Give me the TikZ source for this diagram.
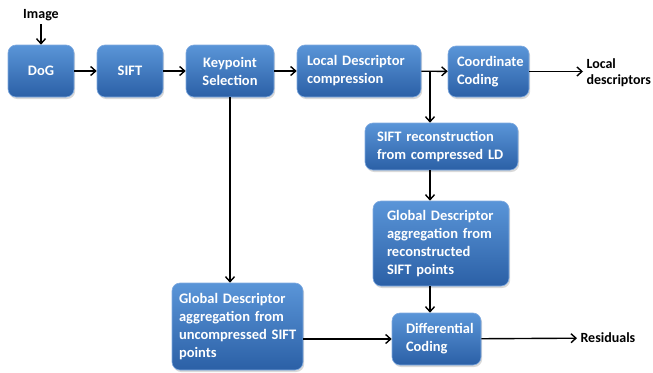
\documentclass[tikz,border=0pt]{standalone}
\usepackage{fontspec}
\setmainfont{Carlito}
\usetikzlibrary{arrows.meta,shadows}

\begin{document}
\begin{tikzpicture}[x=1pt,y=1pt,
	>={Straight Barb[length=5pt,width=9pt]},
	flow/.style={->,line width=1.4pt},
	blk/.style={rounded corners=8pt,draw=BEDG,line width=0.6pt,
		top color=BTOP,bottom color=BBOT,text=white,inner xsep=0pt,
		font=\fontsize{14.5}{18}\selectfont\bfseries,align=left,
		drop shadow={opacity=0.3,shadow xshift=1.2pt,shadow yshift=-2pt}},
	lbl/.style={font=\fontsize{14}{16}\selectfont\bfseries,align=left,anchor=west}]
\definecolor{BTOP}{HTML}{5A95D8}
\definecolor{BBOT}{HTML}{2B60A6}
\definecolor{BEDG}{HTML}{7FAAE0}

\useasboundingbox (0,0) rectangle (653,-372);

% main chain
\node[blk,minimum width=66,minimum height=52,align=center] (dog) at (41,-71) {DoG};
\node[blk,minimum width=66,minimum height=52,align=center] (sift) at (130,-71) {SIFT};
\node[blk,minimum width=88,minimum height=52,align=center] (ks) at (230,-71) {Keypoint\\Selection};
\node[blk,minimum width=124,minimum height=52,text width=104] (ldc) at (359,-71) {Local~Descriptor\\compression};
\node[blk,minimum width=81,minimum height=51,text width=63] (cc) at (488.5,-71.5) {Coordinate\\Coding};

% reconstruction branch
\node[blk,minimum width=153,minimum height=47,text width=129] (sr) at (441.5,-146.5) {SIFT~reconstruction\\from~compressed~LD};
\node[blk,minimum width=136,minimum height=85,text width=108] (gdr) at (441,-243.5) {Global~Descriptor\\aggregation~from\\reconstructed\\SIFT~points};
\node[blk,minimum width=89,minimum height=52,text width=61] (dc) at (436.5,-339) {Differential\\Coding};
\node[blk,minimum width=131,minimum height=87,text width=117] (gdu) at (237.5,-326.5) {Global~Descriptor\\aggregation~from\\uncompressed~SIFT\\points};

% labels
\node[lbl,anchor=center] (img) at (41,-15) {Image};
\node[lbl] (ldout) at (583,-73) {Local\\descriptors};
\node[lbl] (res) at (577,-338) {Residuals};

\coordinate (br) at (430,-71);

% connectors
\draw[flow] (img) -- (dog);
\draw[flow] (dog) -- (sift);
\draw[flow] (sift) -- (ks);
\draw[flow] (ks) -- (ldc);
\draw[flow] (ldc) -- (cc);
\draw[flow] (cc) -- (ldout.west |- cc);
\draw[flow] (br) -- (br |- sr.north);
\draw[flow] (br |- sr.south) -- (br |- gdr.north);
\draw[flow] (br |- gdr.south) -- (br |- dc.north);
\draw[flow] (ks) -- (ks |- gdu.north);
\draw[flow] (gdu.east |- dc.west) -- (dc.west);
\draw[flow] (dc) -- (res);

\end{tikzpicture}
\end{document}
